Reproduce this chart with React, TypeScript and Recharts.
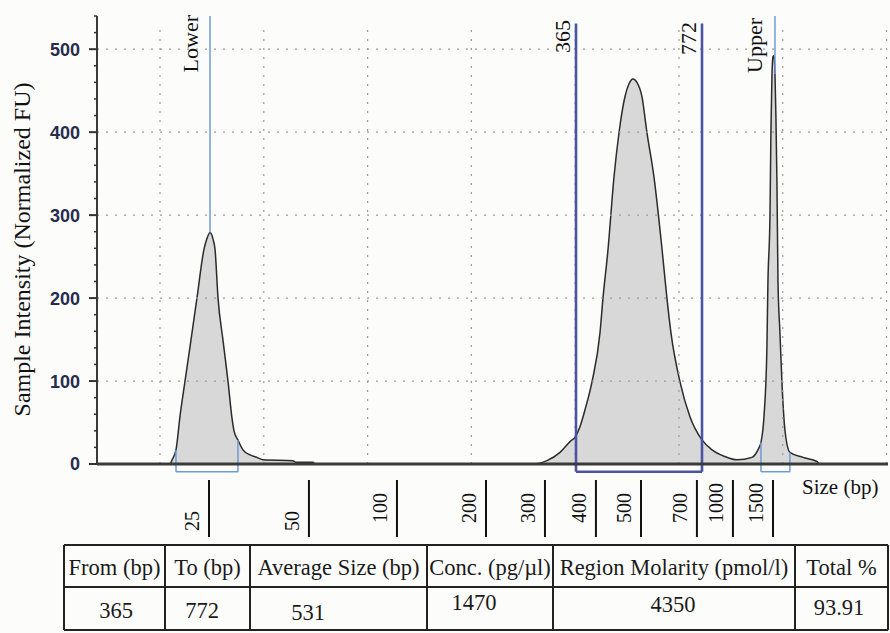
import React from 'react';
import { ComposedChart, Area, XAxis, YAxis, ReferenceLine } from 'recharts';

// Migration time (s) and sample intensity (normalized FU)
const times = [13.93, 20.96, 21.16, 21.54, 21.93, 22.41, 22.99, 23.56, 24.24, 24.53, 24.82, 25.11, 25.3, 25.59, 26.06, 26.55, 26.94, 27.13, 27.51, 27.99, 28.67, 29.34, 29.92, 32.81, 33.1, 34.74, 34.93, 55.93, 57.28, 58.54, 59.5, 60.08, 60.46, 60.94, 61.62, 62.39, 62.68, 63.16, 63.74, 64.22, 64.8, 65.18, 65.57, 65.95, 66.43, 66.92, 67.59, 68.36, 68.84, 69.23, 70.1, 71.06, 72.22, 73.18, 74.43, 75.59, 77.03, 77.61, 77.9, 78.19, 78.47, 78.57, 78.77, 78.86, 78.96, 79.06, 79.15, 79.25, 79.34, 79.44, 79.54, 79.73, 79.92, 80.21, 80.69, 81.95, 83.29, 83.58, 90.14];
const intensity = [0, 0, 5, 17, 58, 100, 150, 200, 259, 272, 279, 271, 259, 200, 150, 100, 55, 40, 29, 17, 11, 8, 5, 4, 2, 2, 0, 0, 4, 14, 27, 34, 45, 65, 99, 158, 200, 258, 346, 399, 443, 458, 464, 460, 443, 399, 346, 260, 200, 158, 99, 57, 29, 17, 9, 5, 8, 17, 26, 57, 138, 218, 300, 400, 468, 491, 492, 470, 420, 340, 220, 158, 99, 41, 14, 8, 3, 0, 0];

// Size ladder ticks (bp) and their migration times
const sizeLabels = ['25', '50', '100', '200', '300', '400', '500', '700', '1000', '1500'];
const sizeTimes = [24.72, 34.35, 42.83, 51.41, 57.09, 62.0, 66.34, 71.73, 75.2, 79.06];

// Grid and axis ticks
const gridTimes = [20, 30, 40, 50, 60, 70, 80, 90];
const gridFU = [100, 200, 300, 400, 500];
const yTicks = [0, 20, 40, 60, 80, 100, 120, 140, 160, 180, 200, 220, 240, 260, 280, 300, 320, 340, 360, 380, 400, 420, 440, 460, 480, 500, 520, 540];

// Markers
const markerNames = ['Lower', 'Upper'];
const markerTimes = [24.82, 79.25];
const markerBrackets = [[21.54, 27.51], [77.9, 80.69]];
const regionLabels = ['365', '772'];
const regionTimes = [60.08, 72.22];

// Table
const tableHeaders = ['From (bp)', 'To (bp)', 'Average Size (bp)', 'Conc. (pg/\u00b5l)', 'Region Molarity (pmol/l)', 'Total %'];
const tableValues = ['365', '772', '531', '1470', '4350', '93.91'];

const data = times.map((t, i) => ({ t, fu: intensity[i] }));

const X_DOMAIN: [number, number] = [13.93, 90.14];
const Y_DOMAIN: [number, number] = [0, 540];
const BRACKET_BOTTOM = -9.3;
const LINE_TOP = 531;

const valueAt = (t: number) => {
  for (let i = 0; i < times.length - 1; i++) {
    if (t >= times[i] && t <= times[i + 1]) {
      const f = (t - times[i]) / (times[i + 1] - times[i]);
      return intensity[i] + f * (intensity[i + 1] - intensity[i]);
    }
  }
  return 0;
};

const SERIF = "'Liberation Serif','Times New Roman',Times,serif";
const SANS = "'Liberation Sans',Arial,sans-serif";
const LIGHT_BLUE = '#6e9bd7';
const DARK_BLUE = '#4a54a3';

const MarkerLabel = (props: any) => {
  const { viewBox, text, dx, top } = props;
  const x = (viewBox && viewBox.x != null ? viewBox.x : 0) + dx;
  return (
    <text x={x} y={top} transform={`rotate(-90 ${x} ${top})`} textAnchor="end" fontFamily={SERIF} fontSize={22} fill="#111">
      {text}
    </text>
  );
};

const YTick = (props: any) => {
  const { x, y, payload } = props;
  const v = payload.value;
  const major = v % 100 === 0 && v <= 500;
  return (
    <g>
      <line x1={x - (major ? 8 : 3)} x2={x} y1={y} y2={y} stroke="#333" strokeWidth={major ? 2 : 1.5} />
      {major && (
        <text x={x - 17} y={y} dy="0.36em" textAnchor="end" fontFamily={SANS} fontWeight="bold" fontSize={18} fill="#272c4e">
          {v}
        </text>
      )}
    </g>
  );
};

const SizeTick = (props: any) => {
  const { x, y, payload } = props;
  let idx = sizeTimes.indexOf(payload.value);
  if (idx < 0) idx = props.index ?? 0;
  const tx = x - 17 + 7;
  const ty = y + 59 + (idx < 2 ? 8 : 0);
  return (
    <g>
      <line x1={x} x2={x} y1={y + 16} y2={y + 73} stroke="#111" strokeWidth={2} />
      <text x={tx} y={ty} transform={`rotate(-90 ${tx} ${ty})`} textAnchor="start" fontFamily={SERIF} fontSize={20} fill="#111">
        {sizeLabels[idx]}
      </text>
    </g>
  );
};

const colEdges = [64, 165, 250, 427, 553, 795, 888];
const rowEdges = [545, 587, 630];
const valueDx = [1.5, -5.5, -30.5, -16, -1, -2.5];
const valueBase = [618, 618, 620, 610, 612, 615];

export default function App() {
  return (
    <div style={{ position: 'absolute', left: 0, top: 0, width: 890, height: 633, background: '#fcfcfb' }}>
      <ComposedChart width={890} height={545} data={data} margin={{ top: 16, right: 2, bottom: 0, left: 0 }}>
        <XAxis
          dataKey="t"
          type="number"
          domain={X_DOMAIN}
          allowDataOverflow
          ticks={sizeTimes}
          interval={0}
          tick={<SizeTick />}
          tickLine={false}
          tickSize={0}
          tickMargin={0}
          height={81}
          axisLine={{ stroke: '#3a3a3a', strokeWidth: 3 }}
        />
        <YAxis
          type="number"
          domain={Y_DOMAIN}
          allowDataOverflow
          ticks={yTicks}
          interval={0}
          width={97}
          tick={<YTick />}
          tickLine={false}
          tickSize={0}
          tickMargin={0}
          axisLine={{ stroke: '#3a3a3a', strokeWidth: 2 }}
        />
        <Area
          type="monotone"
          dataKey="fu"
          stroke="#2b2b2b"
          strokeWidth={1.5}
          fill="#d8d8d8"
          fillOpacity={1}
          dot={false}
          activeDot={false}
          isAnimationActive={false}
        />
        {gridFU.map((v) => (
          <ReferenceLine key={'h' + v} y={v} stroke="#9a9a9a" strokeWidth={1.2} strokeDasharray="2 7" />
        ))}
        {gridTimes.map((t) => (
          <ReferenceLine
            key={'v' + t}
            segment={[{ x: t, y: 0 }, { x: t, y: LINE_TOP }]}
            stroke="#9a9a9a"
            strokeWidth={1.2}
            strokeDasharray="2 7"
            ifOverflow="visible"
          />
        ))}
        {markerTimes.map((t, i) => (
          <ReferenceLine
            key={'m' + i}
            segment={[{ x: t, y: valueAt(t) }, { x: t, y: 540 }]}
            stroke={LIGHT_BLUE}
            strokeWidth={1.5}
            ifOverflow="visible"
            label={<MarkerLabel text={markerNames[i]} dx={-12.5} top={i === 0 ? 15 : 18} />}
          />
        ))}
        {markerBrackets.map((b, i) => (
          <React.Fragment key={'b' + i}>
            <ReferenceLine segment={[{ x: b[0], y: valueAt(b[0]) }, { x: b[0], y: BRACKET_BOTTOM }]} stroke={LIGHT_BLUE} strokeWidth={1.5} ifOverflow="visible" />
            <ReferenceLine segment={[{ x: b[0], y: BRACKET_BOTTOM }, { x: b[1], y: BRACKET_BOTTOM }]} stroke={LIGHT_BLUE} strokeWidth={1.5} ifOverflow="visible" />
            <ReferenceLine segment={[{ x: b[1], y: valueAt(b[1]) }, { x: b[1], y: BRACKET_BOTTOM }]} stroke={LIGHT_BLUE} strokeWidth={1.5} ifOverflow="visible" />
          </React.Fragment>
        ))}
        {regionTimes.map((t, i) => (
          <ReferenceLine
            key={'r' + i}
            segment={[{ x: t, y: BRACKET_BOTTOM }, { x: t, y: LINE_TOP }]}
            stroke={DARK_BLUE}
            strokeWidth={2.6}
            ifOverflow="visible"
            label={<MarkerLabel text={regionLabels[i]} dx={-6} top={i === 0 ? 20 : 22} />}
          />
        ))}
        <ReferenceLine
          segment={[{ x: regionTimes[0], y: BRACKET_BOTTOM }, { x: regionTimes[1], y: BRACKET_BOTTOM }]}
          stroke={DARK_BLUE}
          strokeWidth={2.6}
          ifOverflow="visible"
        />
      </ComposedChart>
      <svg width={890} height={633} style={{ position: 'absolute', left: 0, top: 0, pointerEvents: 'none' }}>
        <text x={30} y={249.5} transform="rotate(-90 30 249.5)" textAnchor="middle" fontFamily={SERIF} fontSize={24} fill="#111">
          Sample Intensity (Normalized FU)
        </text>
        <text x={802} y={494} textAnchor="start" fontFamily={SERIF} fontSize={21} fill="#111">
          Size (bp)
        </text>
        {rowEdges.map((y) => (
          <line key={'tr' + y} x1={colEdges[0]} x2={colEdges[colEdges.length - 1]} y1={y} y2={y} stroke="#222" strokeWidth={2} />
        ))}
        {colEdges.map((x) => (
          <line key={'tc' + x} x1={x} x2={x} y1={rowEdges[0]} y2={rowEdges[2]} stroke="#222" strokeWidth={2} />
        ))}
        {tableHeaders.map((h, i) => (
          <text key={'th' + i} x={(colEdges[i] + colEdges[i + 1]) / 2} y={575} textAnchor="middle" fontFamily={SERIF} fontSize={22.5} fill="#1a1a1a">
            {h}
          </text>
        ))}
        {tableValues.map((v, i) => (
          <text key={'tv' + i} x={(colEdges[i] + colEdges[i + 1]) / 2 + valueDx[i]} y={valueBase[i]} textAnchor="middle" fontFamily={SERIF} fontSize={22.5} fill="#1a1a1a">
            {v}
          </text>
        ))}
      </svg>
    </div>
  );
}
